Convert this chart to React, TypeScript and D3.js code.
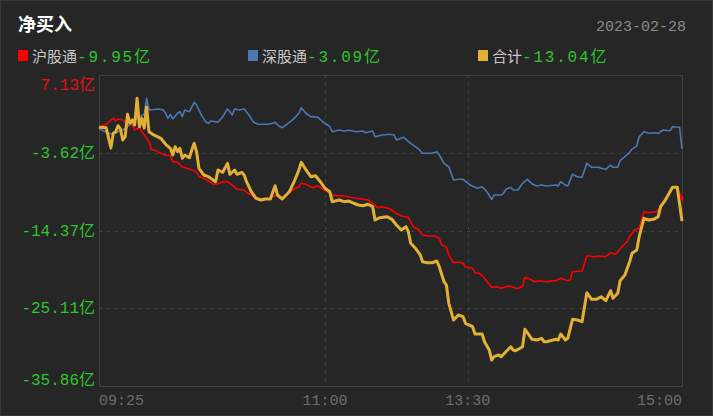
import React from "react";
import * as d3 from "d3";

// minutes since 09:25 (09:25-11:30 = 0..125, 13:00-15:00 = 125..245)
const shMinutes = [0,3,5,6,7,8,10,11,12,14,15,17,18,19,21,22,24,26,28,30,31,33,35,37,40,41,42,44,46,48,50,52,54,56,58,61,62,65,67,69,71,73,75,76,77,80,82,84,85,87,89,90,92,94,96,98,100,103,105,108,111,113,115,117,119,121,123,125,127,130,132,134,136,138,141,143,144,146,147,149,151,153,154,157,158,160,162,165,167,169,172,174,176,178,179,181,183,185,188,192,194,197,198,199,203,205,208,210,213,215,217,218,220,222,223,225,227,228,229,231,234,236,237,239,241,243,245];
const shValues = [-0.02,0.32,0.91,1.14,0.77,1.05,0.91,0.59,0.67,0.12,-0.47,-0.15,-0.71,-1.16,-2.09,-3.14,-3.33,-3.69,-3.93,-4.03,-4.85,-4.94,-5.55,-5.77,-6.10,-6.32,-6.93,-7.15,-7.52,-7.98,-7.90,-7.62,-7.62,-8.08,-8.67,-8.77,-9.08,-9.69,-10.01,-9.91,-10.05,-9.69,-9.46,-9.69,-9.83,-9.08,-8.63,-8.31,-7.84,-7.98,-8.31,-8.45,-8.17,-8.63,-9.00,-9.46,-9.55,-9.60,-9.73,-9.91,-10.05,-10.15,-10.60,-11.21,-11.07,-11.21,-11.53,-11.99,-12.36,-12.54,-13.84,-14.20,-14.99,-15.13,-15.13,-15.44,-16.37,-16.60,-17.75,-18.82,-18.72,-18.90,-19.37,-19.59,-20.20,-20.28,-20.97,-22.22,-22.13,-22.35,-21.99,-22.22,-22.41,-22.04,-20.83,-21.07,-21.44,-21.30,-21.44,-21.30,-20.97,-21.30,-21.21,-20.06,-19.96,-17.85,-17.99,-17.89,-17.99,-17.43,-17.65,-17.30,-16.51,-15.91,-15.22,-14.30,-14.06,-12.91,-11.77,-11.90,-11.77,-11.30,-10.38,-9.60,-8.39,-8.39,-9.95];

const szMinutes = [0,1,4,6,8,10,12,14,16,19,20,21,25,27,28,29,30,31,33,34,35,36,38,40,41,43,45,46,47,49,50,52,54,55,56,57,59,61,63,65,67,69,71,73,74,76,77,79,82,84,85,87,89,92,94,96,97,98,101,103,105,108,111,112,115,116,119,122,124,125,128,131,134,136,140,142,143,145,147,149,151,153,156,159,161,163,165,166,169,170,171,173,174,176,178,180,182,184,186,188,192,193,194,196,197,199,201,203,205,207,210,211,213,215,216,218,219,221,223,224,226,227,229,231,233,235,237,240,241,244,245];
const szValues = [-0.24,-0.47,-0.93,-1.07,-0.71,-0.47,-0.02,0.67,1.14,1.70,3.91,2.29,2.43,2.29,1.84,1.14,1.70,1.05,1.84,2.06,1.37,2.29,2.06,3.36,2.98,1.60,0.59,0.45,0.77,0.67,0.59,1.37,2.43,2.06,1.60,2.43,2.29,2.43,1.60,0.59,0.32,0.32,0.32,0.45,0.59,-0.02,-0.15,0.32,1.14,1.84,2.61,1.84,1.37,1.28,0.67,0.22,-0.02,-0.71,-0.47,-0.61,-0.51,-0.71,-0.61,-0.85,-0.61,-1.40,-1.16,-1.07,-1.16,-1.85,-1.48,-2.31,-3.00,-3.69,-3.69,-3.47,-3.93,-5.08,-5.55,-7.38,-7.29,-7.29,-8.08,-8.53,-8.31,-9.00,-10.05,-9.46,-9.46,-9.22,-8.67,-8.39,-8.77,-8.77,-7.84,-7.29,-7.94,-8.21,-8.08,-8.21,-8.08,-8.21,-7.62,-8.08,-8.21,-6.60,-6.93,-7.01,-5.08,-5.63,-5.63,-5.77,-5.91,-5.31,-5.63,-5.63,-4.72,-4.16,-3.56,-3.14,-2.68,-1.40,-0.71,-0.93,-0.85,-0.93,-0.47,-0.57,-0.02,-0.10,-3.09];

const totalMinutes = [0,3,5,6,7,8,9,10,11,12,13,14,15,16,17,18,19,20,21,23,26,28,30,31,32,33,34,35,36,38,39,40,41,42,44,46,48,49,50,52,54,55,57,58,60,61,62,64,66,68,70,72,74,75,77,80,82,84,85,87,89,91,93,95,97,98,101,103,105,107,109,111,113,115,116,118,121,123,125,127,129,130,131,133,135,136,138,140,142,143,145,146,147,149,151,153,154,157,158,161,162,164,165,166,168,169,171,173,174,175,178,179,180,182,184,186,187,188,192,193,194,196,197,199,201,203,205,207,209,211,213,215,216,218,219,221,223,224,226,227,229,231,233,235,236,238,241,243,245];
const totalValues = [-0.10,-0.15,-2.96,-0.93,-0.71,0.12,-0.33,-1.85,-1.40,1.70,0.45,0.91,0.22,3.91,-0.02,1.14,-0.20,2.71,-0.71,-1.16,-1.62,-2.45,-3.00,-3.93,-2.78,-3.47,-3.00,-4.38,-3.93,-4.30,-3.24,-2.31,-3.47,-5.77,-6.69,-6.93,-7.38,-7.62,-6.00,-6.32,-5.08,-6.60,-6.00,-6.60,-6.32,-6.69,-7.62,-9.00,-9.91,-10.15,-10.01,-10.01,-8.17,-9.46,-10.01,-9.00,-7.62,-6.00,-4.94,-6.00,-6.93,-6.79,-7.62,-8.53,-9.00,-10.38,-10.15,-10.38,-10.29,-10.60,-10.84,-10.94,-10.74,-11.07,-12.91,-12.60,-12.46,-12.78,-13.60,-14.30,-13.84,-14.53,-16.13,-16.83,-17.75,-18.68,-18.82,-18.82,-18.58,-19.37,-21.44,-21.90,-24.43,-26.74,-26.05,-26.28,-27.19,-27.66,-28.67,-28.67,-29.74,-30.88,-32.27,-31.81,-31.57,-31.81,-31.12,-30.43,-30.88,-30.98,-30.43,-28.02,-28.49,-29.40,-29.50,-29.27,-29.74,-29.74,-29.40,-29.50,-28.67,-29.50,-29.27,-26.64,-26.74,-26.97,-22.96,-23.88,-23.88,-23.52,-24.07,-22.69,-23.74,-23.05,-21.30,-20.52,-18.68,-17.52,-17.06,-15.22,-12.68,-12.91,-12.82,-12.46,-11.07,-10.15,-8.39,-8.39,-13.04];

const yTicks = [7.13, -3.62, -14.37, -25.11, -35.86];
const yTickLabels = ["7.13亿", "-3.62亿", "-14.37亿", "-25.11亿", "-35.86亿"];
const xTickMinutes = [0, 95, 155, 245];
const xTickLabels = ["09:25", "11:00", "13:30", "15:00"];

const legendNames = ["沪股通", "深股通", "合计"];
const legendValues = ["-9.95", "-3.09", "-13.04"];
const legendUnit = "亿";
const title = "净买入";
const dateLabel = "2023-02-28";

const W = 713, H = 416;
const PL = 99, PR = 682, PT = 75, PB = 386;
const MONO = "'Liberation Mono','Noto Sans CJK SC',monospace";
const CJK = "'Noto Sans CJK SC',sans-serif";
const GREEN = "#2ec52e";
const RED = "#ff0000";
const BLUE = "#4a78b6";
const YELLOW = "#e2b034";

export default function App() {
  const x = d3.scaleLinear().domain([0, 245]).range([PL, PR]);
  const y = d3.scaleLinear().domain([-35.86, 7.13]).range([PB, PT]);
  const line = d3.line<[number, number]>().x(d => x(d[0])).y(d => y(d[1]));
  const sh = shMinutes.map((m, i) => [m, shValues[i]] as [number, number]);
  const sz = szMinutes.map((m, i) => [m, szValues[i]] as [number, number]);
  const tot = totalMinutes.map((m, i) => [m, totalValues[i]] as [number, number]);
  const colors = [RED, BLUE, YELLOW];
  const legendX = [18, 248, 478];
  const lastSh = sh[sh.length - 1];

  return (
    <div style={{ position: "fixed", left: 0, top: 0, width: W, height: H }}>
      <svg width={W} height={H} style={{ display: "block" }}>
        <rect x={0} y={0} width={W} height={H} fill="#262626" />
        <rect x={0.5} y={0.5} width={W - 1} height={H - 1} fill="none" stroke="#383838" />
        <text x={18} y={31} fill="#ffffff" fontFamily={CJK} fontWeight="bold" fontSize={18}>{title}</text>
        <text x={686} y={31} fill="#8a8a8a" fontFamily={MONO} fontSize={15} textAnchor="end">{dateLabel}</text>
        {legendNames.map((n, i) => (
          <g key={n}>
            <rect x={legendX[i]} y={50} width={10} height={11} fill={colors[i]} />
            <text x={legendX[i] + 14} y={62} fontSize={15} fontFamily={MONO}>
              <tspan fill="#c8c8c8" fontFamily={CJK}>{n}</tspan>
              <tspan fill={GREEN} fontSize={16} letterSpacing={1.8}>{legendValues[i]}</tspan>
              <tspan fill={GREEN} fontFamily={CJK} fontSize={16}>{legendUnit}</tspan>
            </text>
          </g>
        ))}
        {/* grid */}
        {yTicks.slice(1, -1).map(t => (
          <line key={t} x1={PL} x2={PR} y1={Math.round(y(t)) + 0.5} y2={Math.round(y(t)) + 0.5} stroke="#414141" strokeDasharray="3,5" />
        ))}
        {xTickMinutes.slice(1, -1).map(m => (
          <line key={m} x1={Math.round(x(m)) + 0.5} x2={Math.round(x(m)) + 0.5} y1={PT} y2={PB} stroke="#414141" strokeDasharray="3,5" />
        ))}
        <rect x={PL + 0.5} y={PT + 0.5} width={PR - PL} height={PB - PT} fill="none" stroke="#404040" />
        {/* y labels */}
        {yTicks.map((t, i) => {
          const yy = y(t);
          const dy = i === 0 ? 15 : i === yTicks.length - 1 ? -1 : 5;
          return (
            <text key={t} x={95} y={yy + dy} textAnchor="end" fontFamily={MONO} fontSize={16}
              fill={t > 0 ? "#e81010" : GREEN}>{yTickLabels[i]}</text>
          );
        })}
        {/* x labels */}
        {xTickMinutes.map((m, i) => {
          const anchor = i === 0 ? "start" : i === xTickMinutes.length - 1 ? "end" : "middle";
          return (
            <text key={m} x={x(m)} y={405} textAnchor={anchor} fontFamily={MONO} fontSize={15} fill="#6e6e6e">{xTickLabels[i]}</text>
          );
        })}
        {/* lines */}
        <path d={line(sz) || ""} fill="none" stroke={BLUE} strokeWidth={1.6} strokeLinejoin="round" />
        <path d={line(sh) || ""} fill="none" stroke={RED} strokeWidth={1.6} strokeLinejoin="round" />
        <path d={line(tot) || ""} fill="none" stroke={YELLOW} strokeWidth={3} strokeLinejoin="round" />
        <circle cx={x(lastSh[0])} cy={y(lastSh[1])} r={1.8} fill={RED} />
      </svg>
    </div>
  );
}
